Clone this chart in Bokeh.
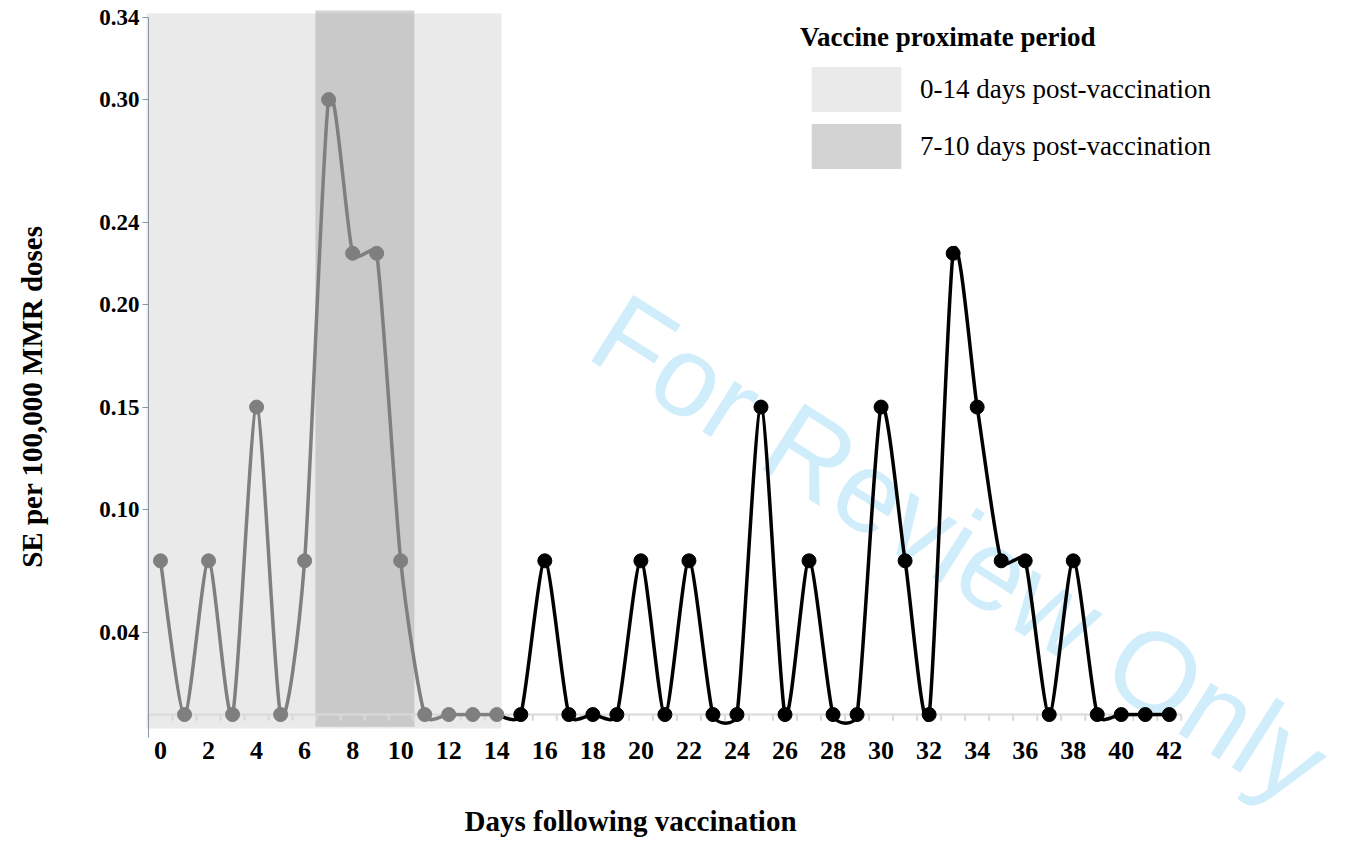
import math
from bokeh.plotting import figure
from bokeh.models import Legend, LegendItem, Label, FixedTicker, Range1d
from bokeh.embed import file_html
from bokeh.resources import INLINE

# ---------------- data ----------------
days = list(range(43))
rate = [0.075, 0, 0.075, 0, 0.15, 0, 0.075, 0.30, 0.225, 0.225, 0.075, 0, 0, 0, 0,
        0, 0.075, 0, 0, 0, 0.075, 0, 0.075, 0, 0, 0.15, 0, 0.075, 0, 0, 0.15, 0.075,
        0, 0.225, 0.15, 0.075, 0.075, 0, 0.075, 0, 0, 0, 0]
proximate_end_day = 14          # grey series: days 0-14
y_ticks = [0.04, 0.10, 0.15, 0.20, 0.24, 0.30, 0.34]
y_tick_labels = ["0.04", "0.10", "0.15", "0.20", "0.24", "0.30", "0.34"]
x_ticks = list(range(0, 43, 2))
period_labels = ["0-14 days post-vaccination", "7-10 days post-vaccination"]
period_start = [-0.58, 6.45]
period_end = [14.2, 10.57]
period_bottom = [-0.0068, -0.0059]
period_top = [0.342, 0.3435]

SERIF = "Liberation Serif"
GREY = "#7f7f7f"
Y_AXIS_BOTTOM = -0.0112
X_AXIS_LEFT = -0.5

p = figure(width=1348, height=843, output_backend="svg", toolbar_location=None,
           x_range=Range1d(-6.6615, 49.46), y_range=Range1d(-0.0629, 0.3459),
           min_border_left=0, min_border_right=0, min_border_top=5,
           min_border_bottom=0)
p.outline_line_color = None
p.xgrid.visible = False
p.ygrid.visible = False
p.background_fill_color = "white"

# shaded periods
r_light = p.quad(left=[period_start[0]], right=[period_end[0]], bottom=[period_bottom[0]],
                 top=[period_top[0]], fill_color="#eaeaea", line_color=None)
r_dark = p.quad(left=[period_start[1]], right=[period_end[1]], bottom=[period_bottom[1]],
                top=[period_top[1]], fill_color="#acabac", fill_alpha=0.52, line_color=None)

# watermark (beneath the lines)
wm = Label(x=33.3, y=0.081, text="For Review Only", angle=-0.565,
           text_align="center", text_baseline="alphabetic",
           text_font="Liberation Sans", text_font_size="114px", text_color="#d0edfb",
           level="underlay")
p.add_layout(wm)

# grey baseline with category ticks
base_x = [days[0] - 0.5, days[-1] + 0.5]
p.line(base_x, [0, 0], line_color="#d9d9d9", line_width=2)
tick_x = [days[0] - 0.5] + [d + 0.5 for d in days]
p.segment(x0=tick_x, y0=[0] * len(tick_x), x1=tick_x, y1=[-0.003] * len(tick_x),
          line_color="#d9d9d9", line_width=2)

# smoothed line (Excel-like bezier smoothing)
SX, SY = 24.02, 2050.0
TENSION = 0.12


def smooth(xs, ys):
    n = len(xs)
    out = {k: [] for k in ("x0", "y0", "x1", "y1", "cx0", "cy0", "cx1", "cy1")}

    def dist(i, j):
        return math.hypot((xs[j] - xs[i]) * SX, (ys[j] - ys[i]) * SY)

    for i in range(n - 1):
        i0 = max(i - 1, 0)
        i3 = min(i + 2, n - 1)
        d12 = dist(i, i + 1)
        d02 = dist(i0, i + 1)
        d13 = dist(i, i3)
        f = min(TENSION, d12 / (2 * d02))
        g = min(TENSION, d12 / (2 * d13))
        out["x0"].append(xs[i]); out["y0"].append(ys[i])
        out["x1"].append(xs[i + 1]); out["y1"].append(ys[i + 1])
        out["cx0"].append(xs[i] + f * (xs[i + 1] - xs[i0]))
        out["cy0"].append(ys[i] + f * (ys[i + 1] - ys[i0]))
        out["cx1"].append(xs[i + 1] - g * (xs[i3] - xs[i]))
        out["cy1"].append(ys[i + 1] - g * (ys[i3] - ys[i]))
    return out


k = proximate_end_day
gx, gy = days[:k + 1], rate[:k + 1]
bx, by = days[k:], rate[k:]

p.bezier(**smooth(bx, by), line_color="black", line_width=3.5)
p.bezier(**smooth(gx, gy), line_color=GREY, line_width=3.5)
p.scatter(bx[1:], by[1:], size=14, fill_color="black", line_color="black")
p.scatter(gx, gy, size=14, fill_color=GREY, line_color=GREY)

# x axis (labels pulled up into place)
xa = p.xaxis[0]
xa.ticker = FixedTicker(ticks=x_ticks)
xa.axis_line_color = None
xa.major_tick_line_color = None
xa.minor_tick_line_color = None
xa.major_tick_in = 0
xa.major_tick_out = 0
xa.major_label_text_font = SERIF
xa.major_label_text_font_style = "bold"
xa.major_label_text_font_size = "26px"
xa.major_label_text_color = "black"
xa.major_label_standoff = -102

# y axis drawn at a fixed location
ya = p.yaxis[0]
ya.fixed_location = X_AXIS_LEFT
ya.ticker = FixedTicker(ticks=y_ticks)
ya.major_label_overrides = {t: l for t, l in zip(y_ticks, y_tick_labels)}
ya.bounds = (Y_AXIS_BOTTOM, 0.34)
ya.axis_line_color = "#8a96a8"
ya.major_tick_line_color = "#8a96a8"
ya.major_tick_out = 6
ya.major_tick_in = 0
ya.minor_tick_line_color = None
ya.major_label_text_font = SERIF
ya.major_label_text_font_style = "bold"
ya.major_label_text_font_size = "23px"
ya.major_label_text_color = "black"
ya.major_label_standoff = 3
ya.axis_label = " "
ya.axis_label_standoff = -400

# axis titles
p.add_layout(Label(x=-5.33, y=0.1551, text="SE per 100,000 MMR doses", angle=math.pi / 2,
                   text_align="center", text_baseline="middle",
                   text_font=SERIF, text_font_style="bold", text_font_size="29px",
                   text_color="black"))
p.add_layout(Label(x=19.57, y=-0.0517, text="Days following vaccination",
                   text_align="center", text_baseline="middle",
                   text_font=SERIF, text_font_style="bold", text_font_size="29px",
                   text_color="black"))

# legend
legend = Legend(items=[LegendItem(label=period_labels[0], renderers=[r_light]),
                       LegendItem(label=period_labels[1], renderers=[r_dark])],
                location=(800, 669), title="Vaccine proximate period",
                title_text_font=SERIF, title_text_font_style="bold",
                title_text_font_size="27px", title_text_color="black", title_standoff=8,
                label_text_font=SERIF, label_text_font_size="27px",
                label_text_color="black",
                glyph_width=112, glyph_height=56, label_standoff=8, spacing=1,
                padding=0, border_line_color=None, background_fill_alpha=0)
p.add_layout(legend)

open("out.html", "w").write(file_html(p, INLINE))
